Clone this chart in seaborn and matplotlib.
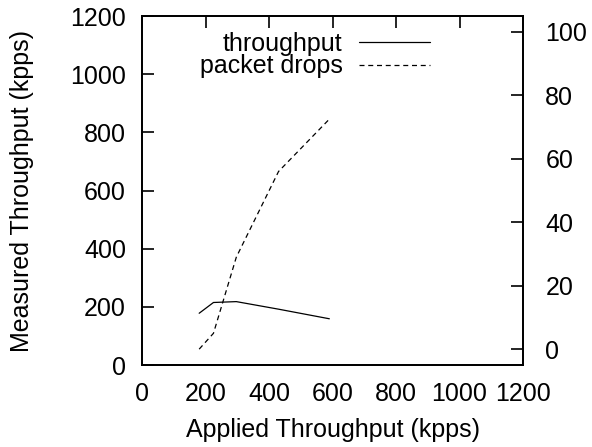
import seaborn as sns
import pandas as pd
import matplotlib.pyplot as plt

applied = [180, 225, 297, 430, 590]
throughput = [178, 215, 218, 192, 159]
drops = [0, 5, 29, 56, 72.5]

sns.set_theme(style="white")
plt.rcParams['font.family'] = ['Liberation Sans', 'DejaVu Sans']
plt.rcParams['text.color'] = 'black'
plt.rcParams['axes.labelcolor'] = 'black'
fs = 18

data = pd.DataFrame({'applied': applied, 'throughput': throughput, 'drops': drops})

fig = plt.figure(figsize=(5.92, 4.47), dpi=100)
ax = fig.add_axes([0.2399, 0.1834, 0.6436, 0.7808])
ax2 = ax.twinx()

sns.lineplot(x='applied', y='throughput', data=data, ax=ax, color='black',
             linewidth=0.9, label='throughput', legend=False)
sns.lineplot(x='applied', y='drops', data=data, ax=ax2, color='black',
             linewidth=0.9, linestyle=(0, (4, 3)), label='packet drops', legend=False)

ax.set_xlim(0, 1200)
ax.set_ylim(0, 1200)
ax2.set_ylim(-5, 105)
ax.set_xticks(range(0, 1201, 200))
ax.set_yticks(range(0, 1201, 200))
ax2.set_yticks(range(0, 101, 20))

ax.set_xlabel('Applied Throughput (kpps)', fontsize=fs, va='center', color='black')
ax.set_ylabel('Measured Throughput (kpps)', fontsize=fs, va='center', color='black')
ax.xaxis.set_label_coords(0.5, -0.187)
ax.yaxis.set_label_coords(-0.315, 0.5)
ax2.set_ylabel('')

ax.tick_params(axis='x', direction='in', length=8.5, width=1.2, top=True,
               labelsize=fs, pad=12, colors='black')
ax.tick_params(axis='y', direction='in', length=8.5, width=1.2, right=False,
               labelsize=fs, pad=11.5, colors='black')
ax2.tick_params(axis='y', direction='in', length=8.5, width=1.2,
                labelsize=fs, pad=16, colors='black')

for a in (ax, ax2):
    for s in a.spines.values():
        s.set_color('black')
        s.set_linewidth(1.3)

h1, l1 = ax.get_legend_handles_labels()
h2, l2 = ax2.get_legend_handles_labels()
ax.legend(h1 + h2, l1 + l2, loc='upper right', bbox_to_anchor=(0.756, 0.955),
          frameon=False, markerfirst=False, fontsize=fs, handlelength=2.85,
          handletextpad=0.65, labelspacing=-0.05, borderaxespad=0, borderpad=0,
          labelcolor='black')

fig.savefig('out.png', dpi=100)
